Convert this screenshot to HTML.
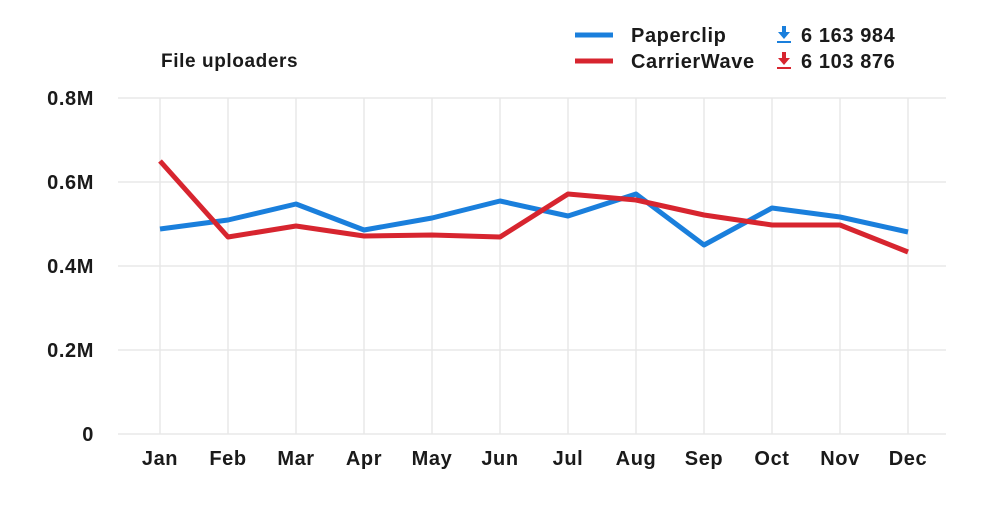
<!DOCTYPE html>
<html><head><meta charset="utf-8"><style>
html,body{margin:0;padding:0;background:#fff;width:1000px;height:521px;overflow:hidden}
svg text{font-family:"Liberation Sans",sans-serif;fill:#1a1a1a;font-weight:bold;letter-spacing:0.6px}
</style></head><body>
<svg width="1000" height="521" viewBox="0 0 1000 521">
<g stroke="#e8e8e8" stroke-width="1.5">
<line x1="118" y1="98" x2="946" y2="98"/><line x1="118" y1="182" x2="946" y2="182"/>
<line x1="118" y1="266" x2="946" y2="266"/><line x1="118" y1="350" x2="946" y2="350"/>
<line x1="118" y1="434" x2="946" y2="434"/>
<line x1="160" y1="98" x2="160" y2="434"/><line x1="228" y1="98" x2="228" y2="434"/>
<line x1="296" y1="98" x2="296" y2="434"/><line x1="364" y1="98" x2="364" y2="434"/>
<line x1="432" y1="98" x2="432" y2="434"/><line x1="500" y1="98" x2="500" y2="434"/>
<line x1="568" y1="98" x2="568" y2="434"/><line x1="636" y1="98" x2="636" y2="434"/>
<line x1="704" y1="98" x2="704" y2="434"/><line x1="772" y1="98" x2="772" y2="434"/>
<line x1="840" y1="98" x2="840" y2="434"/><line x1="908" y1="98" x2="908" y2="434"/>
</g>
<g font-size="20" text-anchor="end">
<text x="94" y="105">0.8M</text><text x="94" y="189">0.6M</text><text x="94" y="273">0.4M</text><text x="94" y="357">0.2M</text><text x="94" y="441">0</text>
</g>
<g font-size="20" text-anchor="middle">
<text x="160" y="465">Jan</text><text x="228" y="465">Feb</text><text x="296" y="465">Mar</text><text x="364" y="465">Apr</text><text x="432" y="465">May</text><text x="500" y="465">Jun</text><text x="568" y="465">Jul</text><text x="636" y="465">Aug</text><text x="704" y="465">Sep</text><text x="772" y="465">Oct</text><text x="840" y="465">Nov</text><text x="908" y="465">Dec</text>
</g>
<polyline fill="none" stroke="#1a7fdc" stroke-width="5" stroke-linejoin="round" points="160,229 228,220 296,204 364,230 432,218 500,201 568,216 636,194 704,245 772,208 840,217 908,232"/>
<polyline fill="none" stroke="#d7252f" stroke-width="5" stroke-linejoin="round" points="160,161 228,237 296,226 364,236 432,235 500,237 568,194 636,200 704,215 772,225 840,225 908,252"/>
<text x="161" y="67" font-size="19">File uploaders</text>
<line x1="575" y1="35" x2="613" y2="35" stroke="#1a7fdc" stroke-width="5"/>
<line x1="575" y1="61" x2="613" y2="61" stroke="#d7252f" stroke-width="5"/>
<text x="631" y="42" font-size="20">Paperclip</text>
<text x="631" y="68" font-size="20">CarrierWave</text>
<g fill="#1a7fdc"><rect x="782" y="26" width="4" height="7"/><polygon points="778,32 790,32 784,39"/><rect x="777" y="41" width="14" height="2"/></g>
<g fill="#d7252f"><rect x="782" y="52" width="4" height="7"/><polygon points="778,58 790,58 784,65"/><rect x="777" y="67" width="14" height="2"/></g>
<text x="801" y="42" font-size="20">6 163 984</text>
<text x="801" y="68" font-size="20">6 103 876</text>
</svg>
</body></html>
